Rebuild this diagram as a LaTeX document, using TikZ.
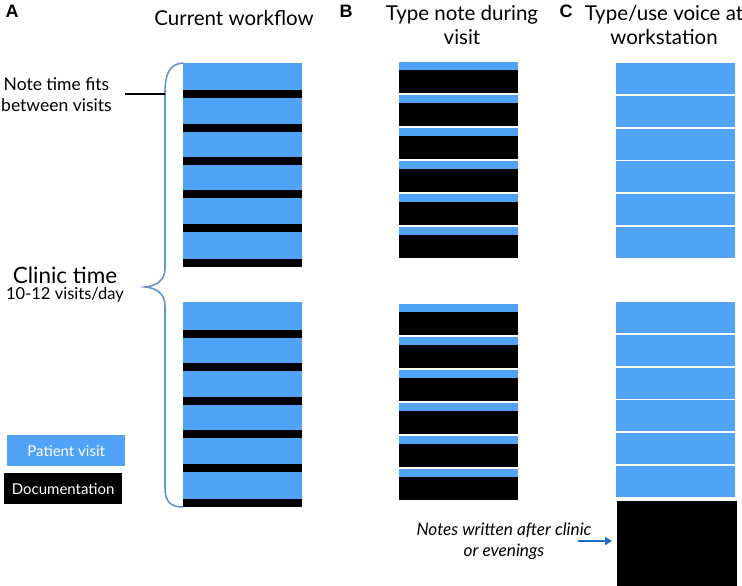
\documentclass[tikz,border=0pt]{standalone}
\usepackage{fontspec}
\setmainfont{Lato}
\newfontfamily\panelfont{Liberation Sans}
\usetikzlibrary{arrows.meta,positioning}

\definecolor{visitblue}{RGB}{80,163,246}
\definecolor{bracecol}{RGB}{104,148,200}
\definecolor{arrowblue}{RGB}{32,108,190}

\tikzset{
	visit/.style={fill=visitblue},
	docu/.style={fill=black},
	headtxt/.style={font=\fontsize{20.5}{23.5}\selectfont, align=center},
	paneltxt/.style={font=\panelfont\bfseries\fontsize{18}{20}\selectfont},
	notetxt/.style={font=\fontsize{17.5}{21}\selectfont, align=center},
	keybox/.style={minimum width=118pt, minimum height=31pt, inner sep=0pt,
		text=white, font=\fontsize{15}{18}\selectfont},
	brace/.style={draw=bracecol, line width=1.6pt},
	noteline/.style={draw=black, line width=2.6pt},
	latearrow/.style={draw=arrowblue, line width=1.8pt, -{Triangle[length=7pt,width=8pt]}},
}

\begin{document}
\begin{tikzpicture}[x=1pt,y=-1pt]
	\useasboundingbox (0,0) rectangle (742,586);
	% Panelbuchstaben
	\node[paneltxt] (panA) at (12,11) {A};
	\node[paneltxt] (panB) at (346,11) {B};
	\node[paneltxt] (panC) at (566,11) {C};
	% Spaltenkoepfe
	\node[headtxt] (headA) at (234,18) {Current workflow};
	\node[headtxt] (headB) at (462,25) {Type note during\\visit};
	\node[headtxt] (headC) at (664,25) {Type/use voice at\\workstation};
	% Spalte A: Besuche mit Notizen dazwischen
	\fill[visit] (183,63) rectangle (302,267);
	\foreach \y in {90,124,157,190,224,259}
		\fill[docu] (183,\y) rectangle (302,\y+8);
	\fill[visit] (183,302) rectangle (302,500);
	\foreach \y in {330,363,397,430,464,499}
		\fill[docu] (183,\y) rectangle (302,\y+8);
	% Spalte B: Notiz waehrend des Besuchs
	\foreach \s in {62,95,128,161,194,227,304,337,370,403,436,469} {
		\fill[visit] (399,\s) rectangle (518,\s+8);
		\fill[docu] (399,\s+8) rectangle (518,\s+31);
	}
	% Spalte C: Besuche, Notizen danach
	\foreach \s in {63,96,129,161,194,227,302,335,368,400,433,466}
		\fill[visit] (616,\s) rectangle (735,\s+31);
	\node[docu, minimum width=120pt, minimum height=86pt, inner sep=0pt,
		anchor=north west] (after) at (617,501) {};
	% Klammer
	\draw[brace] (183,63) .. controls (169,64) and (165,74) .. (165,94)
		-- (165,268) .. controls (165,281) and (156,286) .. (145,287)
		.. controls (156,288) and (165,293) .. (165,306)
		-- (165,488) .. controls (165,502) and (171,507) .. (183,507);
	\coordinate (notefit) at (165,94);
	% Beschriftungen links
	\node[notetxt, anchor=west, inner sep=0pt] (note) at (1,95) {Note time fits\\between visits};
	\draw[noteline] ([xshift=13pt]note.east |- notefit) -- (notefit);
	\node[font=\fontsize{22.5}{26}\selectfont] (clinic) at (65,275) {Clinic time};
	\node[font=\fontsize{16.5}{20}\selectfont, below=-3pt of clinic] (perday) {10-12 visits/day};
	% Legende
	\node[keybox, fill=visitblue, anchor=north west] (keyvisit) at (7,435) {Patient visit};
	\node[keybox, fill=black, anchor=north west] (keydocu) at (4,473) {Documentation};
	% Notizen nach der Klinik
	\node[notetxt, font=\itshape\fontsize{17.2}{21}\selectfont] (late) at (504,541)
		{Notes written after clinic\\or evenings};
	\coordinate (arrowtail) at (578,541);
	\draw[latearrow, shorten >=5pt] (arrowtail) -- (after.west |- arrowtail);
\end{tikzpicture}
\end{document}
